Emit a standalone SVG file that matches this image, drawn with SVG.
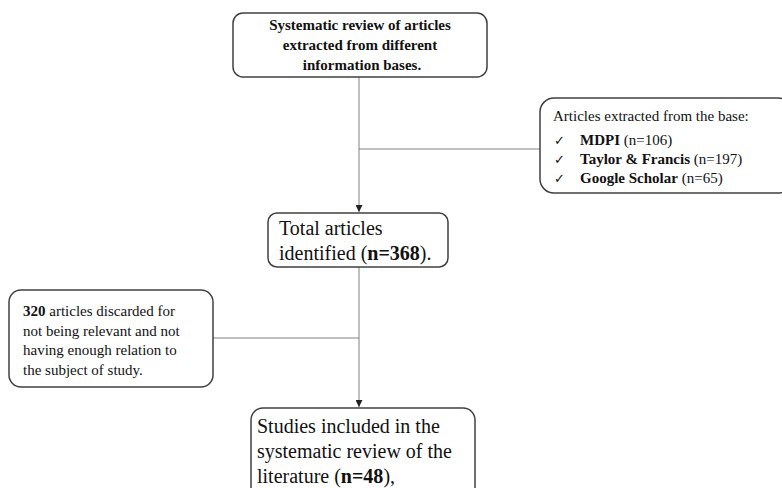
<svg xmlns="http://www.w3.org/2000/svg" width="782" height="488" viewBox="0 0 782 488">
<defs>
<marker id="arr" viewBox="0 0 10 10" refX="10" refY="5" markerWidth="7" markerHeight="7" markerUnits="userSpaceOnUse" orient="auto">
<path d="M0,0 L10,5 L0,10 z" fill="#222"/>
</marker>
</defs>
<style>
.box{fill:#fff;stroke:#404040;stroke-width:1.5}
.t{font-family:"Liberation Serif","Times New Roman",serif;fill:#111}
.s15{font-size:15px}
.s20{font-size:20px}
.b{font-weight:bold}
.ck{font-family:"DejaVu Sans",sans-serif;font-size:13px;fill:#111}
.con{stroke:#808080;stroke-width:1;fill:none}
</style>
<rect width="782" height="488" fill="#fff"/>
<g id="connectors">
<line class="con" x1="359" y1="77" x2="359" y2="212" marker-end="url(#arr)"/>
<line class="con" x1="359" y1="149" x2="540" y2="149"/>
<line class="con" x1="359" y1="267" x2="359" y2="407" marker-end="url(#arr)"/>
<line class="con" x1="213" y1="338" x2="359" y2="338"/>
</g>
<g id="n1">
<rect class="box" x="233" y="13" width="254" height="64" rx="10"/>
<text class="t s15 b" text-anchor="middle" x="360" y="30">Systematic review of articles</text>
<text class="t s15 b" text-anchor="middle" x="360" y="50">extracted from different</text>
<text class="t s15 b" text-anchor="middle" x="362" y="70">information bases.</text>
</g>
<g id="n2">
<rect class="box" x="540" y="98" width="252" height="95" rx="14"/>
<text class="t s15" x="553" y="121">Articles extracted from the base:</text>
<text class="ck" x="554" y="145">✓</text>
<text class="t s15" x="580" y="145"><tspan class="b">MDPI</tspan> (n=106)</text>
<text class="ck" x="554" y="164">✓</text>
<text class="t s15" x="580" y="164"><tspan class="b">Taylor &amp; Francis</tspan> (n=197)</text>
<text class="ck" x="554" y="183">✓</text>
<text class="t s15" x="580" y="183"><tspan class="b">Google Scholar</tspan> (n=65)</text>
</g>
<g id="n3">
<rect class="box" x="268" y="213" width="180" height="54" rx="9"/>
<text class="t s20" x="279" y="235">Total articles</text>
<text class="t s20" x="279" y="260">identified (<tspan class="b">n=368</tspan>).</text>
</g>
<g id="n4">
<rect class="box" x="9" y="290" width="204" height="97" rx="12"/>
<text class="t s15" x="23" y="316"><tspan class="b">320</tspan> articles discarded for</text>
<text class="t s15" x="23" y="335.5">not being relevant and not</text>
<text class="t s15" x="23" y="355">having enough relation to</text>
<text class="t s15" x="23" y="374.5">the subject of study.</text>
</g>
<g id="n5">
<rect class="box" x="251" y="408" width="224" height="100" rx="12"/>
<text class="t s20" x="257" y="433">Studies included in the</text>
<text class="t s20" x="257" y="458">systematic review of the</text>
<text class="t s20" x="257" y="483">literature (<tspan class="b">n=48</tspan>),</text>
</g>
</svg>
